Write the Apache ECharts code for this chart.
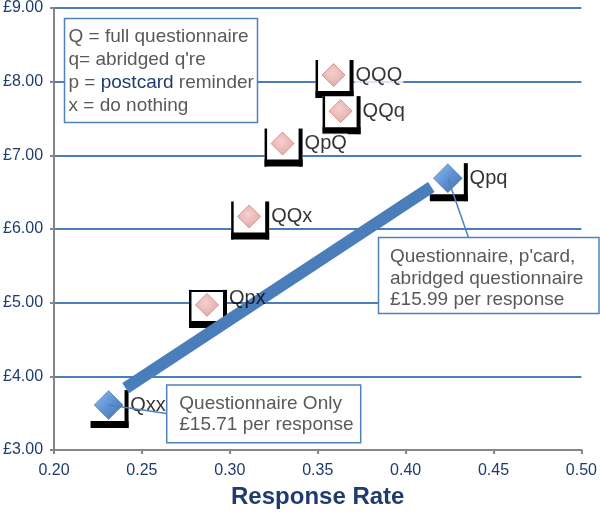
<!DOCTYPE html>
<html lang="en">
<head>
<meta charset="utf-8">
<title>Cost per response vs response rate</title>
<style>
    html, body { margin: 0; padding: 0; background: #fff; }
    #main { width: 600px; height: 514px; }
</style>
<script src="https://cdn.jsdelivr.net/npm/echarts@6/dist/echarts.min.js"></script>
</head>
<body>
<div id="main"></div>
<script>
// strategies that cost more (pink)
var pinkNames = ['QQQ', 'QQq', 'QpQ', 'QQx', 'Qpx'];
var pinkRate = [0.359, 0.363, 0.330, 0.311, 0.287];
var pinkCost = [8.09, 7.60, 7.16, 6.17, 4.97];

// strategies on the frontier (blue)
var blueNames = ['Qxx', 'Qpq'];
var blueRate = [0.231, 0.424];
var blueCost = [3.61, 6.69];

// thick frontier line, end points
var lineRate = [0.2407, 0.4146];
var lineCost = [3.84, 6.57];

// which sides of the black bracket each point has (pink first, then blue)
var bracketSides = ['LBR', 'LBR', 'LBR', 'LBR', 'TLBR', 'BR', 'BR'];

var FONT = '"Liberation Sans", Arial, Helvetica, sans-serif';
var NAVY = '#1f3c6e';
var GRID_BLUE = '#4a7ebb';
var GREY = '#868686';
var TEXT_GREY = '#595959';

var chart = echarts.init(document.getElementById('main'));

function zip(xs, ys) {
    return xs.map(function (x, i) { return [x, ys[i]]; });
}

var pinkData = pinkNames.map(function (n, i) {
    var d = { name: n, value: [pinkRate[i], pinkCost[i]] };
    if (n === 'Qpx') d.label = { backgroundColor: 'transparent', offset: [0, -6] };
    return d;
});
var blueData = blueNames.map(function (n, i) {
    return { name: n, value: [blueRate[i], blueCost[i]] };
});

function blk(x, y, w, h) {
    return { type: 'rect', shape: { x: x, y: y, width: w, height: h }, style: { fill: '#000' } };
}

var option = {
    animation: false,
    backgroundColor: '#fff',
    grid: { left: 53, right: 18, top: 8, bottom: 64 },
    xAxis: {
        type: 'value',
        min: 0.2,
        max: 0.5,
        interval: 0.05,
        name: 'Response Rate',
        nameLocation: 'middle',
        nameGap: 35,
        nameTextStyle: { color: NAVY, fontSize: 24, fontWeight: 'bold', fontFamily: FONT },
        axisLine: { show: true, lineStyle: { color: GREY, width: 2 } },
        axisTick: { show: true, length: 4, lineStyle: { color: GREY, width: 2 } },
        axisLabel: {
            color: NAVY, fontSize: 16, fontFamily: FONT, margin: 13,
            formatter: function (v) { return v.toFixed(2); }
        },
        splitLine: { show: false }
    },
    yAxis: {
        type: 'value',
        min: 3,
        max: 9,
        interval: 1,
        axisLine: { show: true, lineStyle: { color: GREY, width: 2 } },
        axisTick: { show: true, length: 4, lineStyle: { color: GREY, width: 2 } },
        axisLabel: {
            color: NAVY, fontSize: 16, fontFamily: FONT, margin: 11,
            formatter: function (v) { return '£' + v.toFixed(2); }
        },
        splitLine: { show: true, lineStyle: { color: GRID_BLUE, width: 2 } }
    },
    series: [
        {
            // black brackets behind each marker
            type: 'custom',
            z: 2,
            silent: true,
            data: zip(pinkRate.concat(blueRate), pinkCost.concat(blueCost)),
            renderItem: function (params, api) {
                var c = api.coord([api.value(0), api.value(1)]);
                var s = bracketSides[params.dataIndex];
                var L = c[0] - 18, R = c[0] + 20, T = c[1] - 15, B = c[1] + 23;
                var kids = [{
                    type: 'rect',
                    shape: { x: L, y: T, width: R - L, height: B - T },
                    style: { fill: '#fff' }
                }];
                if (s.indexOf('L') >= 0) kids.push(blk(L, T, 2.5, B - T));
                if (s.indexOf('T') >= 0) kids.push(blk(L, T, R - L, 2));
                if (s.indexOf('B') >= 0) kids.push(blk(L, B - 7, R - L, 7));
                if (s.indexOf('R') >= 0) kids.push(blk(R - 4, T, 4, B - T));
                return { type: 'group', children: kids };
            }
        },
        {
            type: 'line',
            z: 3,
            silent: true,
            symbol: 'none',
            data: zip(lineRate, lineCost),
            lineStyle: { color: '#4a7ebb', width: 12, cap: 'butt' }
        },
        {
            type: 'scatter',
            z: 4,
            symbol: 'diamond',
            symbolSize: 23,
            data: pinkData,
            itemStyle: {
                color: {
                    type: 'radial', x: 0.45, y: 0.4, r: 0.7,
                    colorStops: [{ offset: 0, color: '#f2c4c2' }, { offset: 1, color: '#d68f8d' }]
                },
                borderColor: '#c98583',
                borderWidth: 1
            },
            label: {
                show: true,
                position: 'right',
                distance: 9,
                formatter: '{b}',
                color: '#000',
                fontSize: 20,
                fontFamily: FONT,
                backgroundColor: '#fff',
                padding: [0, 1]
            }
        },
        {
            type: 'scatter',
            z: 4,
            symbol: 'diamond',
            symbolSize: 29,
            data: blueData,
            itemStyle: {
                color: {
                    type: 'linear', x: 0, y: 0, x2: 1, y2: 1,
                    colorStops: [
                        { offset: 0, color: '#78b0f0' },
                        { offset: 0.5, color: '#3777c8' },
                        { offset: 1, color: '#1c4a8f' }
                    ]
                },
                borderColor: '#245496',
                borderWidth: 0.5
            },
            label: {
                show: true,
                position: 'right',
                distance: 6,
                formatter: '{b}',
                color: '#000',
                fontSize: 20,
                fontFamily: FONT,
                backgroundColor: '#fff',
                padding: [0, 1]
            }
        }
    ]
};

chart.setOption(option);

// callout pointers start at the data points
var pQpq = chart.convertToPixel({ gridIndex: 0 }, [blueRate[1], blueCost[1]]);
var pQxx = chart.convertToPixel({ gridIndex: 0 }, [blueRate[0], blueCost[0]]);

function box(x, y, w, h) {
    return {
        type: 'rect', z: 100,
        shape: { x: x, y: y, width: w, height: h },
        style: { fill: '#fff', stroke: '#4f81bd', lineWidth: 1.5 }
    };
}
function pointer(p, x, y) {
    return {
        type: 'line', z: 101,
        shape: { x1: p[0], y1: p[1], x2: x, y2: y },
        style: { stroke: '#4f81bd', lineWidth: 1.5 }
    };
}
function words(x, y, txt, lh, rich) {
    return {
        type: 'text', z: 102, x: x, y: y,
        style: {
            text: txt, fill: TEXT_GREY, fontSize: 19, fontFamily: FONT,
            lineHeight: lh, verticalAlign: 'top', align: 'left', rich: rich
        }
    };
}

chart.setOption({
    graphic: [
        box(64.5, 18.5, 193, 104),
        words(68.5, 25.5,
            '{g|Q = full questionnaire}\n{g|q= abridged q\'re}\n{g|p = }{b|postcard}{g| reminder}\n{g|x = do nothing}',
            22.8,
            {
                g: { fill: TEXT_GREY, fontSize: 19, fontFamily: FONT, lineHeight: 22.8 },
                b: { fill: NAVY, fontSize: 19, fontFamily: FONT, lineHeight: 22.8 }
            }),
        pointer(pQpq, 468.5, 237.5),
        box(378.5, 237.5, 220.5, 76),
        words(390, 246, 'Questionnaire, p\'card,\nabridged questionnaire\n£15.99 per response', 21.7),
        pointer(pQxx, 166.7, 413.5),
        box(166.7, 385, 194, 57.7),
        words(179.3, 392.5, 'Questionnaire Only\n£15.71 per response', 21.7)
    ]
});
</script>
</body>
</html>
